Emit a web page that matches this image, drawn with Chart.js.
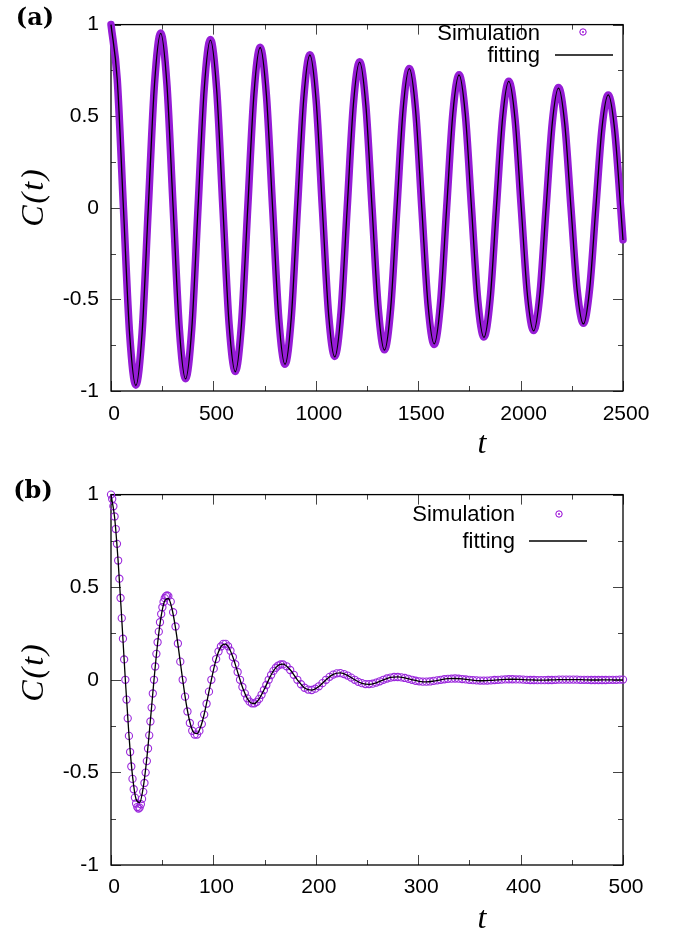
<!DOCTYPE html>
<html><head><meta charset="utf-8">
<script src="https://cdn.jsdelivr.net/npm/chart.js@4.4.1/dist/chart.umd.min.js"></script>
<style>
html,body{margin:0;padding:0;background:#fff;}
#wrap{position:relative;width:679px;height:932px;overflow:hidden;background:#fff;}
canvas{position:absolute;left:0;}
.lbl{position:absolute;white-space:nowrap;color:#000;}
.panel{font-family:'DejaVu Serif',serif;font-weight:bold;font-size:24px;line-height:30px;width:60px;text-align:center;}
.ytitle{font-family:'Liberation Serif','Times New Roman',serif;font-style:italic;font-size:32px;line-height:40px;width:100px;height:40px;text-align:center;transform:rotate(-90deg);letter-spacing:2px;}
.xtitle{font-family:'Liberation Serif','Times New Roman',serif;font-style:italic;font-size:32px;line-height:36px;width:40px;text-align:center;}
.leg{font-family:'Liberation Sans',Arial,sans-serif;font-size:22px;line-height:22px;text-align:right;width:150px;}
svg{position:absolute;left:0;top:0;pointer-events:none;}
</style></head>
<body><div id="wrap">
<canvas id="ca" width="679" height="470" style="top:0;width:679px;height:470px"></canvas>
<canvas id="cb" width="679" height="462" style="top:470px;width:679px;height:462px"></canvas>
<div class="lbl panel" style="left:5px;top:2px">(a)</div>
<div class="lbl panel" style="left:3px;top:475px">(b)</div>
<div class="lbl ytitle" style="left:-18px;top:177px">C(t)</div>
<div class="lbl ytitle" style="left:-18px;top:652px">C(t)</div>
<div class="lbl xtitle" style="left:462px;top:424px">t</div>
<div class="lbl xtitle" style="left:462px;top:899px">t</div>
<div class="lbl leg" style="left:390px;top:22px">Simulation</div>
<div class="lbl leg" style="left:390px;top:44px">fitting</div>
<div class="lbl leg" style="left:365px;top:503px">Simulation</div>
<div class="lbl leg" style="left:365px;top:530px">fitting</div>
<svg width="679" height="932" viewBox="0 0 679 932">
<circle cx="583" cy="32" r="3.2" fill="none" stroke="#9400D3" stroke-width="1"/>
<circle cx="583" cy="32" r="0.9" fill="#9400D3"/>
<line x1="555" y1="55" x2="613" y2="55" stroke="#000" stroke-width="1.3"/>
<circle cx="559" cy="514" r="3.2" fill="none" stroke="#9400D3" stroke-width="1"/>
<circle cx="559" cy="514" r="0.9" fill="#9400D3"/>
<line x1="529" y1="541" x2="587" y2="541" stroke="#000" stroke-width="1.3"/>
</svg>
</div>
<script>
// ---------- Panel (a) ----------
const tA = [0,30.4,60.7,91.1,121.4,151.8,182.1,212.5,242.8,273.2,303.5,333.9,364.2,394.6,424.9,455.3,485.6,516,546.3,576.7,607,637.4,667.7,698.1,728.4,758.8,789.1,819.5,849.8,880.2,910.5,940.9,971.2,1001.6,1031.9,1062.3,1092.6,1123,1153.3,1183.7,1214,1244.4,1274.7,1305.1,1335.4,1365.8,1396.1,1426.5,1456.8,1487.2,1517.5,1547.9,1578.2,1608.6,1638.9,1669.3,1699.6,1730,1760.3,1790.7,1821,1851.4,1881.7,1912.1,1942.4,1972.8,2003.1,2033.5,2063.8,2094.2,2124.5,2154.9,2185.2,2215.6,2245.9,2276.3,2306.6,2337,2367.3,2397.7,2428,2458.4,2488.7,2500];
const simA = [1.000,0.701,0,-0.690,-0.968,-0.682,0,0.677,0.954,0.671,0,-0.663,-0.933,-0.657,0,0.652,0.919,0.645,0,-0.636,-0.893,-0.629,0,0.622,0.876,0.615,0,-0.607,-0.854,-0.600,0,0.594,0.835,0.586,0,-0.578,-0.811,-0.571,0,0.566,0.797,0.559,0,-0.551,-0.775,-0.546,0,0.541,0.761,0.535,0,-0.530,-0.746,-0.524,0,0.517,0.726,0.510,0,-0.502,-0.705,-0.496,0,0.491,0.691,0.485,0,-0.477,-0.670,-0.472,0,0.467,0.656,0.460,0,-0.450,-0.630,-0.443,0,0.438,0.616,0.433,0,-0.175];
const fitA = [1.000,0.702,0,-0.691,-0.970,-0.683,0,0.676,0.952,0.670,0,-0.664,-0.934,-0.657,0,0.650,0.915,0.643,0,-0.636,-0.895,-0.629,0,0.622,0.875,0.615,0,-0.608,-0.855,-0.601,0,0.593,0.834,0.586,0,-0.579,-0.814,-0.572,0,0.566,0.795,0.559,0,-0.553,-0.777,-0.546,0,0.540,0.760,0.534,0,-0.528,-0.743,-0.522,0,0.516,0.725,0.509,0,-0.503,-0.707,-0.497,0,0.491,0.690,0.485,0,-0.478,-0.672,-0.472,0,0.465,0.653,0.458,0,-0.452,-0.634,-0.445,0,0.439,0.616,0.434,0,-0.176];
const xTicksA = [0,500,1000,1500,2000,2500];
// ---------- Panel (b) ----------
const tB = [0,1.17,2.33,3.5,4.67,5.83,7,8.17,9.33,10.5,11.67,12.83,14,15.17,16.33,17.5,18.67,19.83,21,22.17,23.33,24.5,25.67,26.83,28,29.17,30.33,31.5,32.67,33.83,35,36.17,37.33,38.5,39.67,40.83,42,43.17,44.33,45.5,46.67,47.83,49,50.17,51.33,52.5,53.67,54.83,56,
58.33,60.67,63,65.33,67.67,70,72.33,74.67,77,79.33,81.67,84,86.33,88.67,91,93.33,95.67,98,100.33,102.67,105,107.33,109.67,112,114.33,116.67,119,121.33,123.67,126,128.33,130.67,133,135.33,137.67,140,142.33,144.67,147,149.33,151.67,154,156.33,158.67,161,163.33,165.67,168,
171.5,175,178.5,182,185.5,189,192.5,196,199.5,203,206.5,210,213.5,217,220.5,224,227.5,231,234.5,238,241.5,245,248.5,252,255.5,259,262.5,266,269.5,273,276.5,280,283.5,287,290.5,294,297.5,301,304.5,308,311.5,315,318.5,322,325.5,329,332.5,336,
339.5,343,346.5,350,353.5,357,360.5,364,367.5,371,374.5,378,381.5,385,388.5,392,395.5,399,402.5,406,409.5,413,416.5,420,423.5,427,430.5,434,437.5,441,444.5,448,451.5,455,458.5,462,465.5,469,472.5,476,479.5,483,486.5,490,493.5,497,500];
const simB = [1.000,0.976,0.937,0.882,0.814,0.734,0.644,0.546,0.442,0.333,0.222,0.110,0,-0.107,-0.208,-0.303,-0.390,-0.468,-0.535,-0.591,-0.636,-0.668,-0.687,-0.695,-0.690,-0.672,-0.643,-0.605,-0.557,-0.501,-0.439,-0.371,-0.300,-0.225,-0.150,-0.074,0,0.072,0.140,0.203,0.260,0.311,0.355,0.392,0.420,0.441,0.452,0.456,0.452,
0.422,0.365,0.288,0.196,0.098,0,-0.091,-0.171,-0.233,-0.275,-0.296,-0.296,-0.276,-0.239,-0.188,-0.129,-0.064,0,0.060,0.112,0.153,0.180,0.194,0.194,0.181,0.157,0.123,0.084,0.042,0,-0.039,-0.073,-0.100,-0.118,-0.127,-0.127,-0.119,-0.103,-0.081,-0.055,-0.028,0,0.026,0.048,0.065,0.077,0.083,0.083,
0.073,0.053,0.027,0,-0.024,-0.043,-0.053,-0.055,-0.048,-0.035,-0.018,0,0.016,0.028,0.035,0.036,0.031,0.023,0.012,0,-0.011,-0.018,-0.023,-0.023,-0.021,-0.015,-0.008,0,0.007,0.012,0.015,0.015,0.013,0.010,0.005,0,-0.005,-0.008,-0.010,-0.010,-0.009,-0.006,-0.003,0,0.003,0.005,0.006,0.007,
0.006,0.004,0.002,0,-0.002,-0.003,-0.004,-0.004,-0.004,-0.003,-0.001,0,0.001,0.002,0.003,0.003,0.002,0.002,0.001,0,-0.001,-0.001,-0.002,-0.002,-0.002,-0.001,-0.001,0,0.001,0.001,0.001,0.001,0.001,0.001,0,0,0,-0.001,-0.001,-0.001,-0.001,-0.001,0,0,0,0.001,0.001];
const tBfit = [0,3.5,7,10.5,14,17.5,21,24.5,28,31.5,35,38.5,42,45.5,49,52.5,56,59.5,63,66.5,70,73.5,77,80.5,84,87.5,91,94.5,98,101.5,105,108.5,112,115.5,119,122.5,126,129.5,133,136.5,140,143.5,147,150.5,154,157.5,161,164.5,168,
175,182,189,196,203,210,217,224,231,238,245,252,259,266,273,280,287,294,301,308,315,322,329,336,343,350,357,364,371,378,385,392,399,406,413,420,427,434,441,448,455,462,469,476,483,490,497,500];
const fitB = [1,0.878,0.638,0.328,0,-0.296,-0.519,-0.645,-0.663,-0.581,-0.423,-0.217,0,0.196,0.344,0.427,0.439,0.385,0.280,0.144,0,-0.130,-0.228,-0.283,-0.291,-0.255,-0.186,-0.095,0,0.086,0.151,0.187,0.193,0.169,0.123,0.063,0,-0.057,-0.100,-0.124,-0.128,-0.112,-0.081,-0.042,0,0.038,0.066,0.082,0.085,
0.054,0,-0.044,-0.056,-0.036,0,0.029,0.037,0.024,0,-0.019,-0.025,-0.016,0,0.013,0.016,0.010,0,-0.008,-0.011,-0.007,0,0.006,0.007,0.005,0,-0.004,-0.005,-0.003,0,0.002,0.003,0.002,0,-0.001,-0.002,-0.001,0,0.001,0.001,0.001,0,-0.001,-0.001,0,0,0,0];
const xTicksB = [0,100,200,300,400,500];
const yTicks = [-1,-0.5,0,0.5,1];

const PURPLE = '#9400D3';
const FONT = "'Liberation Sans', Arial, Helvetica, sans-serif";

function pts(xs, ys){
  const n = Math.min(xs.length, ys.length);
  const out = [];
  for(let i=0;i<n;i++) out.push({x:xs[i], y:ys[i]});
  return out;
}

const frame = {
  id:'frame',
  beforeDatasetsDraw(chart){
    const {ctx, chartArea:a, scales:{x, y}} = chart;
    ctx.save();
    const seg=(x1,y1,x2,y2)=>{ctx.beginPath();ctx.moveTo(x1,y1);ctx.lineTo(x2,y2);ctx.stroke();};
    ctx.strokeStyle='#444'; ctx.lineWidth=1;
    const L=10, l=5;
    const xt = x.ticks.map(t=>t.value);
    xt.forEach((v,i)=>{
      const p=Math.round(x.getPixelForValue(v))+0.5;
      seg(p,a.bottom,p,a.bottom-L); seg(p,a.top,p,a.top+L);
      if(i<xt.length-1){
        const q=Math.round(x.getPixelForValue((v+xt[i+1])/2))+0.5;
        seg(q,a.bottom,q,a.bottom-l); seg(q,a.top,q,a.top+l);
      }
    });
    const yt = y.ticks.map(t=>t.value);
    yt.forEach((v,i)=>{
      const p=Math.round(y.getPixelForValue(v))+0.5;
      seg(a.left,p,a.left+L,p); seg(a.right,p,a.right-L,p);
      if(i<yt.length-1){
        const q=Math.round(y.getPixelForValue((v+yt[i+1])/2))+0.5;
        seg(a.left,q,a.left+l,q); seg(a.right,q,a.right-l,q);
      }
    });
    ctx.strokeStyle='#000'; ctx.lineWidth=1.3;
    ctx.strokeRect(a.left, a.top, a.right-a.left, a.bottom-a.top);
    ctx.restore();
  }
};

function makeScales(xmin, xmax, xstep, xHeight, xPad, xTicks){
  return {
    x:{type:'linear', min:xmin, max:xmax,
       afterFit:s=>{s.height=xHeight;},
       afterBuildTicks:s=>{s.ticks = xTicks.map(v=>({value:v}));},
       grid:{display:false, drawTicks:false}, border:{display:false},
       ticks:{stepSize:xstep, autoSkip:false, maxRotation:0, minRotation:0, padding:xPad, labelOffset:3, color:'#000',
              font:{family:FONT, size:21}, callback:v=>String(v)}},
    y:{type:'linear', min:-1, max:1,
       afterFit:s=>{s.width=111;},
       afterBuildTicks:s=>{s.ticks = yTicks.map(v=>({value:v}));},
       grid:{display:false, drawTicks:false}, border:{display:false},
       ticks:{stepSize:0.5, autoSkip:false, padding:12, color:'#000',
              font:{family:FONT, size:21}, callback:v=>String(v)}}
  };
}

const common = {
  responsive:false, animation:false, devicePixelRatio:1, events:[],
  plugins:{legend:{display:false}, tooltip:{enabled:false}}
};

new Chart(document.getElementById('ca'), {
  type:'line',
  data:{datasets:[
    {label:'fitting', data:pts(tA, fitA), borderColor:'#000', borderWidth:1.3, pointRadius:0,
     cubicInterpolationMode:'monotone', order:0, clip:false},
    {label:'Simulation', data:pts(tA, simA), borderColor:'rgb(150,28,214)', borderWidth:7.5, pointRadius:0,
     cubicInterpolationMode:'monotone', borderJoinStyle:'round', borderCapStyle:'round', order:1, clip:false}
  ]},
  options:Object.assign({}, common, {
    layout:{padding:{top:11, right:56, left:0, bottom:0}},
    scales:makeScales(0, 2500, 500, 79, 11, xTicksA)
  }),
  plugins:[frame]
});

new Chart(document.getElementById('cb'), {
  type:'line',
  data:{datasets:[
    {label:'fitting', data:pts(tBfit, fitB), borderColor:'#000', borderWidth:1.3, pointRadius:0,
     cubicInterpolationMode:'monotone', order:0, clip:false},
    {label:'Simulation', data:pts(tB, simB), showLine:false, pointRadius:3.6, pointBorderWidth:1.1,
     pointStyle:'circle', pointBorderColor:'rgb(155,40,220)', pointBackgroundColor:'rgba(0,0,0,0)', borderColor:PURPLE,
     order:1, clip:false}
  ]},
  options:Object.assign({}, common, {
    layout:{padding:{top:15, right:56, left:0, bottom:0}},
    scales:makeScales(0, 500, 100, 67, 10, xTicksB)
  }),
  plugins:[frame]
});
</script>
</body></html>
